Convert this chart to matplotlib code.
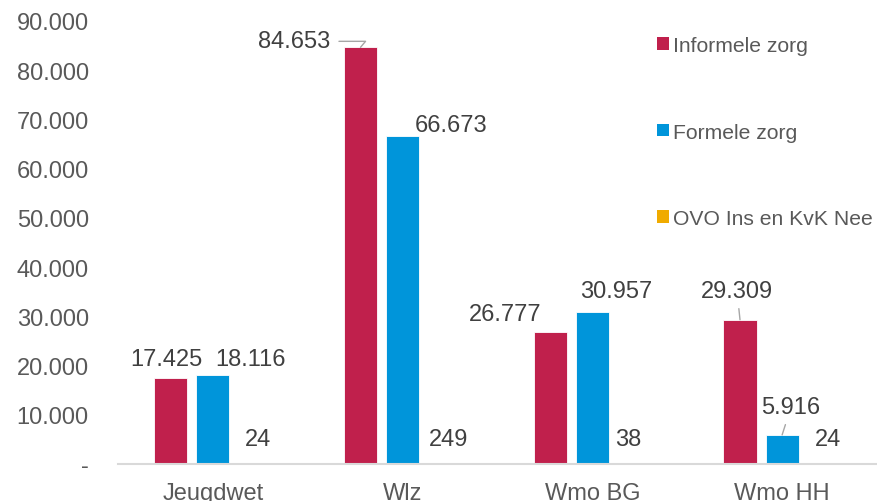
"""
Zorggebruik per wet: informele zorg, formele zorg en OVO
"""
import matplotlib
matplotlib.use('Agg')
import matplotlib.pyplot as plt
from matplotlib.patches import Patch
import numpy as np

# Data
categories = ['Jeugdwet', 'Wlz', 'Wmo BG', 'Wmo HH']
series_names = ['Informele zorg', 'Formele zorg', 'OVO Ins en KvK Nee']
informele = [17425, 84653, 26777, 29309]
formele = [18116, 66673, 30957, 5916]
ovo = [24, 249, 38, 24]
y_ticks = [0, 10000, 20000, 30000, 40000, 50000, 60000, 70000, 80000, 90000]

colors = ['#C0204C', '#0095DA', '#F0AB00']
text_color = '#404040'
tick_color = '#595959'
leader_color = '#A6A6A6'


def fmt(v):
    # Dutch thousands separator
    return f'{v:,}'.replace(',', '.')


plt.rcParams['font.family'] = ['Liberation Sans', 'DejaVu Sans']

fig = plt.figure(figsize=(8.77, 5.02), dpi=100)
ax = fig.add_axes([118 / 877, 1 - 465 / 502, 759 / 877, (465 - 22) / 502])

x = np.arange(len(categories))
offsets = [-0.222, 0.0, 0.222]
width = 0.175
all_series = [informele, formele, ovo]

for i, vals in enumerate(all_series):
    ax.bar(x + offsets[i], vals, width, color=colors[i],
           edgecolor='white', linewidth=0.6, label=series_names[i])

# label offsets in pixels (dx, dy) from bar top center, and leader style
label_pos = [
    [(-4, 19, None), (-66, 6, 'elbow'), (-45, 18, None), (-3, 29, 'line')],
    [(38, 16, None), (48, 11, None), (24, 21, None), (9, 28, 'line')],
    [(3, 25, None), (4, 24, None), (-6, 25, None), (4, 25, None)],
]

px2pt = 72 / fig.dpi
for i, vals in enumerate(all_series):
    for j, v in enumerate(vals):
        dx, dy, leader = label_pos[i][j]
        xy = (x[j] + offsets[i], v)
        kw = {}
        if leader == 'line':
            kw['arrowprops'] = dict(arrowstyle='-', color=leader_color, lw=1.0,
                                    shrinkA=3, shrinkB=0)
        elif leader == 'elbow':
            kw['arrowprops'] = dict(arrowstyle='-', color=leader_color, lw=1.0,
                                    shrinkA=4, shrinkB=0,
                                    connectionstyle='angle,angleA=0,angleB=50,rad=0')
        ax.annotate(fmt(v), xy=xy, xytext=(dx * px2pt, dy * px2pt),
                    textcoords='offset points', ha='center', va='center',
                    fontsize=17, color=text_color, **kw)

ax.set_xlim(-0.5, 3.5)
ax.set_ylim(0, 90000)
ax.set_xticks(x)
ax.set_xticklabels(categories, fontsize=17, color=tick_color)
ax.set_yticks(y_ticks)
ax.set_yticklabels(['-'] + [fmt(t) for t in y_ticks[1:]], fontsize=17, color=tick_color)
ax.tick_params(axis='both', length=0)
ax.tick_params(axis='x', pad=13)
ax.tick_params(axis='y', pad=21)

for side in ['top', 'right', 'left']:
    ax.spines[side].set_visible(False)
ax.spines['bottom'].set_color('#D9D9D9')
ax.spines['bottom'].set_linewidth(1.5)

handles = [Patch(facecolor=c, edgecolor='none') for c in colors]
fig.legend(handles, series_names, loc='upper left',
           bbox_to_anchor=(638 / 877, 1 - 18 / 502), frameon=False,
           fontsize=15.2, handlelength=0.55, handleheight=0.55,
           handletextpad=0.2, labelspacing=3.2, labelcolor=tick_color)

plt.savefig('out.png', dpi=100)
plt.close()
